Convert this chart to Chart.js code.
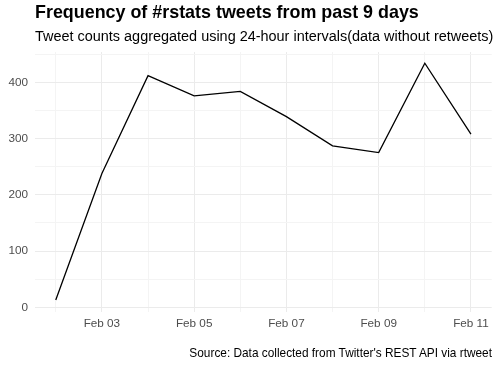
<!DOCTYPE html>
<html>
<head>
<meta charset="utf-8">
<script src="https://cdn.jsdelivr.net/npm/chart.js@4"></script>
<style>
  html, body { margin: 0; padding: 0; background: #fff; }
  #wrap { position: relative; width: 499px; height: 367px; overflow: hidden; font-family: "Liberation Sans", Arial, sans-serif; }
  #wrap canvas { position: absolute; left: 0; top: 0; }
  .txt { position: absolute; white-space: nowrap; line-height: 1; color: #000; }
  #title { left: 35px; top: 4px; font-size: 17.9px; font-weight: bold; }
  #subtitle { left: 35px; top: 29px; font-size: 14.45px; }
  #caption { right: 7px; top: 348px; font-size: 11.85px; }
</style>
</head>
<body>
<div id="wrap">
  <canvas id="tweetChart" width="499" height="367"></canvas>
  <div class="txt" id="title">Frequency of #rstats tweets from past 9 days</div>
  <div class="txt" id="subtitle">Tweet counts aggregated using 24-hour intervals(data without retweets)</div>
  <div class="txt" id="caption">Source: Data collected from Twitter's REST API via rtweet</div>
</div>

<script>
// ========================== DATA =============================

const days = ["Feb 02", "Feb 03", "Feb 04", "Feb 05", "Feb 06", "Feb 07", "Feb 08", "Feb 09", "Feb 10", "Feb 11"];
const tweetCounts = [13, 238, 412, 376, 384, 339, 287, 275, 434, 308];
const xTickLabels = ["Feb 03", "Feb 05", "Feb 07", "Feb 09", "Feb 11"];
const yTicks = [0, 50, 100, 150, 200, 250, 300, 350, 400, 450];
const yTickLabels = [0, 100, 200, 300, 400];

// ========================== CHART =============================

const majorGrid = "#EBEBEB";
const minorGrid = "#F4F4F4";
const tickFont = { family: "Liberation Sans", size: 11.73 };

const ctx = document.getElementById("tweetChart").getContext("2d");
new Chart(ctx, {
  type: "line",
  data: {
    datasets: [
      {
        data: tweetCounts.map((v, i) => ({ x: i, y: v })),
        borderColor: "#000",
        borderWidth: 1.3,
        pointRadius: 0,
        tension: 0,
        fill: false,
      },
    ],
  },
  options: {
    responsive: false,
    animation: false,
    devicePixelRatio: 1,
    layout: { padding: { top: 52, right: 7.3, bottom: 35, left: 0 } },
    plugins: { legend: { display: false }, tooltip: { enabled: false } },
    scales: {
      x: {
        type: "linear",
        min: -0.45,
        max: 9.45,
        afterBuildTicks: (scale) => {
          scale.ticks = days.map((d, i) => ({ value: i }));
        },
        afterFit: (scale) => {
          scale.height = 20;
        },
        border: { display: false },
        grid: {
          drawTicks: false,
          tickLength: 0,
          lineWidth: 1,
          color: (c) => (xTickLabels.includes(days[c.tick.value]) ? majorGrid : minorGrid),
        },
        ticks: {
          autoSkip: false,
          maxRotation: 0,
          padding: 5,
          color: "#4D4D4D",
          font: tickFont,
          callback: (v) => (xTickLabels.includes(days[v]) ? days[v] : ""),
        },
      },
      y: {
        type: "linear",
        min: -8.4,
        max: 454,
        afterBuildTicks: (scale) => {
          scale.ticks = yTicks.map((v) => ({ value: v }));
        },
        afterFit: (scale) => {
          scale.width = 35;
        },
        border: { display: false },
        grid: {
          drawTicks: false,
          tickLength: 0,
          lineWidth: 1,
          color: (c) => (yTickLabels.includes(c.tick.value) ? majorGrid : minorGrid),
        },
        ticks: {
          padding: 7,
          color: "#4D4D4D",
          font: tickFont,
          callback: (v) => (yTickLabels.includes(v) ? String(v) : ""),
        },
      },
    },
  },
});
</script>
</body>
</html>
